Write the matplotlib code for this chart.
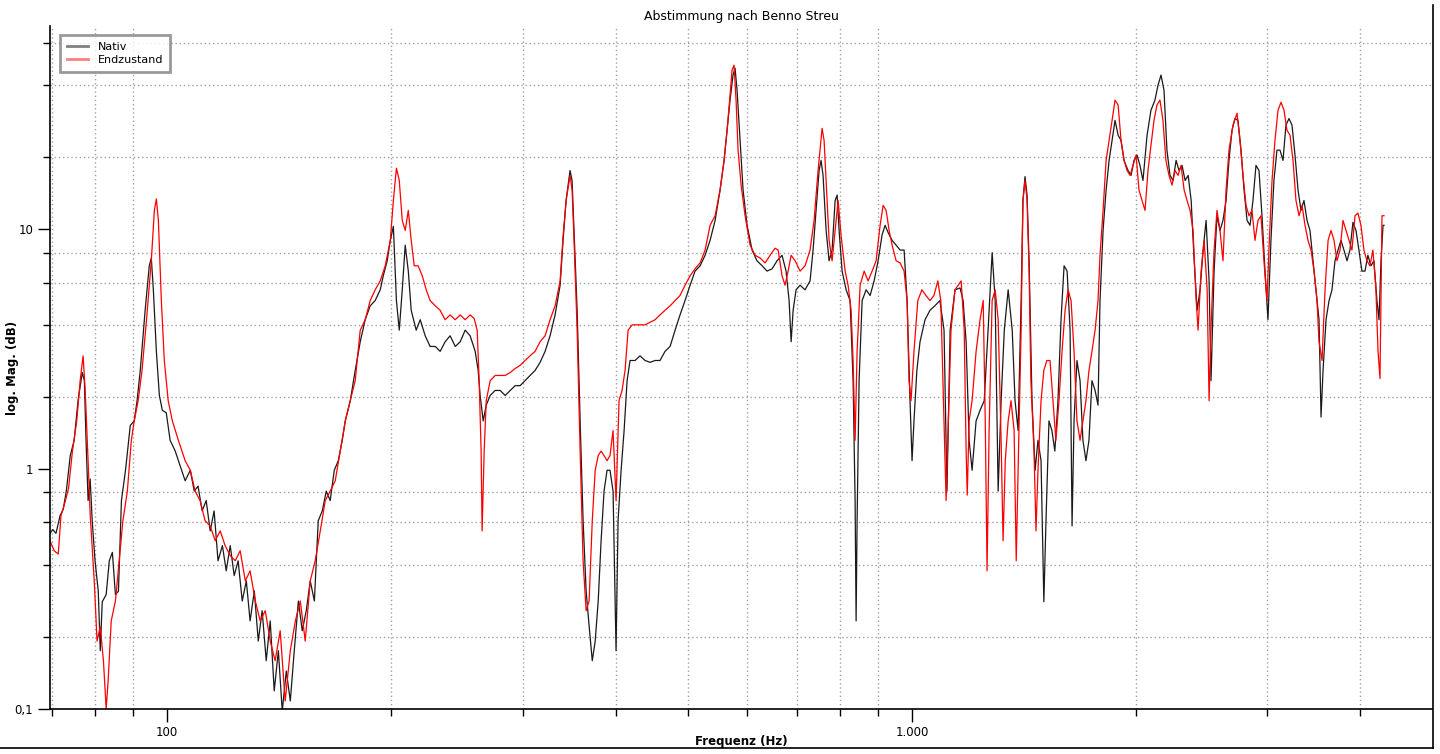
import numpy as np
import matplotlib.pyplot as plt
from matplotlib.ticker import LogLocator, NullFormatter
from matplotlib.lines import Line2D

# Nativ (schwarz)
freq_nativ = [69.6, 70.2, 70.9, 71.8, 72.5, 73.2, 74.1, 75.0, 75.9, 76.9, 77.4, 77.8, 78.3, 78.8, 79.3,
              80.0, 80.8, 81.3, 81.8, 82.8, 83.6, 84.4, 85.2, 86.0, 86.8, 87.9, 89.2, 90.3, 91.1, 92.0,
              93.4, 94.6, 95.2, 95.8, 96.7, 97.6, 98.5, 99.7, 100.9, 102.5, 104.1, 105.7, 107.4, 108.7, 110.0,
              111.4, 112.8, 114.2, 115.6, 117.0, 118.6, 120.0, 121.5, 123.0, 124.5, 126.1, 127.7, 129.2, 130.9,
              132.5, 134.1, 135.8, 137.5, 139.2, 141.0, 142.7, 144.5, 146.3, 148.1, 150.0, 151.8, 153.7, 155.6,
              157.6, 159.5, 161.5, 163.5, 165.5, 167.6, 169.7, 171.8,
              173.4, 176.1, 178.8, 181.6, 184.4, 187.3, 190.2, 193.2, 195.0, 197.4, 199.3, 201.2, 203.1, 204.9,
              206.8, 208.7, 210.7, 212.6, 215.9, 218.6, 222.0, 225.4, 229.0, 232.5, 236.1, 239.8, 243.6, 247.4,
              251.2, 255.1, 259.1, 261.5, 263.1, 265.6, 268.1, 271.4, 275.6,
              279.9, 284.3, 288.7, 293.2, 297.7, 302.3, 307.0, 311.8, 316.7, 321.6, 326.6, 331.7, 336.9, 340.0,
              343.2, 347.4, 349.6, 351.7, 355.1, 358.4, 361.7, 365.1, 368.5, 372.1, 375.5, 379.0, 382.4, 385.9,
              389.5, 393.1, 396.8, 400.5, 403.0, 406.8, 410.6, 414.4, 418.2, 424.7,
              431.3, 438.1, 444.9, 451.8, 458.8, 466.0, 473.3, 480.7, 488.1, 495.7, 503.5, 511.3, 519.3, 527.4,
              535.6, 544.0, 552.4, 559.3, 564.5, 569.7, 575.0, 578.6, 582.2, 587.6, 593.1, 600.5, 609.9, 619.1,
              629.1, 638.7, 648.8, 658.8, 669.1, 677.4, 683.8, 688.1, 692.4, 698.7, 707.4, 718.4, 729.6, 736.4,
              743.3, 750.2, 754.8, 759.5, 766.7, 773.8, 781.0, 788.4, 793.3, 798.1, 805.6, 815.6, 825.7, 833.4,
              838.6, 841.2, 843.8, 849.0, 857.0, 867.7, 878.4, 889.4, 900.4, 911.6, 920.1, 928.7, 940.2, 951.9,
              963.7, 975.7, 984.8, 993.8, 1000, 1006, 1015,
              1025, 1041, 1057, 1073, 1090, 1104, 1114, 1125, 1142, 1160, 1171, 1182, 1193, 1204, 1219, 1234,
              1250, 1265, 1281, 1293, 1305, 1317, 1330, 1346, 1363, 1375, 1388, 1401, 1409, 1418, 1427, 1436,
              1449, 1463, 1476, 1490, 1503, 1513, 1527, 1541, 1555, 1570, 1585, 1600, 1615, 1630, 1640, 1650,
              1665, 1681, 1696, 1712, 1728, 1744, 1761, 1777, 1788, 1805, 1822, 1839, 1856, 1873, 1891, 1908,
              1926, 1950, 1968, 1986, 2005, 2023, 2042, 2068, 2093, 2119, 2139, 2159, 2179, 2199, 2220, 2241,
              2262, 2283, 2304, 2326, 2348, 2370, 2392, 2414, 2436, 2459, 2482, 2505, 2520, 2544, 2567, 2591,
              2615, 2640, 2664, 2689, 2714, 2739, 2765, 2791, 2817, 2843, 2869, 2896, 2923, 2950, 2978, 3005,
              3033, 3061, 3090, 3119, 3148, 3177, 3207, 3237, 3267, 3298, 3328, 3359, 3391, 3422, 3454, 3486,
              3519, 3541, 3563, 3596, 3630, 3663, 3697, 3732, 3766, 3801, 3837, 3872, 3908, 3945, 3981, 4018,
              4056, 4093, 4132, 4170, 4209, 4236, 4262, 4289, 4302]
mag_nativ = [0.54, 0.56, 0.54, 0.64, 0.68, 0.81, 1.14, 1.32, 1.93, 2.53, 2.34, 1.32, 0.74, 0.91, 0.61,
             0.415, 0.31, 0.175, 0.28, 0.30, 0.415, 0.45, 0.30, 0.31, 0.74, 0.99, 1.52, 1.59, 1.93, 2.58,
             4.6, 7.05, 7.6, 5.6, 3.1, 2.03, 1.76, 1.72, 1.32, 1.19, 1.03, 0.895, 0.99, 0.81, 0.85,
             0.67, 0.74, 0.553, 0.67, 0.415, 0.48, 0.377, 0.48, 0.36, 0.415, 0.282, 0.342, 0.233, 0.311,
             0.192, 0.257, 0.159, 0.233, 0.119, 0.175, 0.098, 0.144, 0.108, 0.175, 0.282, 0.212, 0.257, 0.342,
             0.282, 0.61, 0.67, 0.81, 0.74, 0.99, 1.085, 1.32,
             1.59, 1.93, 2.58, 3.4, 4.2, 4.8, 5.05, 5.6, 6.4, 7.4, 9.0, 10.3, 5.05, 3.8,
             5.6, 8.6, 6.7, 4.6, 3.8, 4.2, 3.6, 3.25, 3.25, 3.1, 3.4, 3.6, 3.25, 3.4,
             3.8, 3.6, 3.1, 2.58, 2.03, 1.59, 1.85, 2.03, 2.13,
             2.13, 2.03, 2.13, 2.23, 2.23, 2.34, 2.46, 2.58, 2.79, 3.1, 3.6, 4.4, 5.85, 9.0,
             13.2, 17.6, 16.0, 9.9, 4.6, 1.59, 0.61, 0.311, 0.222, 0.159, 0.192, 0.282, 0.503, 0.81,
             0.99, 0.99, 0.81, 0.175, 0.61, 0.99, 1.45, 2.34, 2.84, 2.84,
             2.97, 2.84, 2.79, 2.84, 2.84, 3.1, 3.25, 3.8, 4.4, 5.05, 5.85, 6.7, 7.05, 7.8,
             9.0, 10.9, 14.6, 19.4, 25.9, 34.6, 44.0, 47.0, 38.0, 23.5, 14.6, 10.4, 8.2, 7.4,
             7.05, 6.7, 6.85, 7.4, 7.8, 6.7, 5.05, 3.4, 4.6, 5.6, 5.85, 5.6, 6.1, 8.2,
             12.0, 17.6, 19.4, 16.8, 9.9, 7.4, 8.2, 13.2, 13.9, 9.9, 6.7, 5.6, 5.05, 2.34,
             0.74, 0.233, 0.61, 2.34, 5.05, 5.6, 5.3, 6.1, 7.4, 9.5, 10.4, 9.7, 9.0, 8.6,
             8.2, 8.2, 5.05, 1.93, 1.085, 1.59, 2.58,
             3.4, 4.2, 4.6, 4.8, 5.05, 3.8, 0.81, 3.8, 5.6, 5.7, 5.05, 3.4, 1.32, 0.99, 1.59, 1.76,
             1.93, 3.8, 8.0, 5.05, 0.81, 1.93, 3.8, 5.6, 3.8, 1.93, 1.45, 5.05, 13.2, 16.6, 13.9, 7.4,
             1.93, 0.99, 1.32, 1.085, 0.28, 0.61, 1.59, 1.45, 1.19, 1.93, 4.2, 7.05, 6.7, 3.8, 0.58, 1.59,
             2.84, 2.34, 1.32, 1.085, 1.32, 2.34, 2.13, 1.85, 5.05, 9.9, 14.6, 19.4, 23.5, 28.5, 24.7, 23.5,
             19.4, 17.6, 16.8, 19.4, 20.4, 18.5, 16.0, 24.7, 31.4, 34.6, 39.9, 44.0, 38.1, 21.4, 16.8, 16.0,
             19.4, 17.6, 18.5, 16.0, 16.8, 13.2, 7.4, 4.6, 5.6, 8.2, 10.9, 6.1, 2.34, 6.7, 11.4, 9.9,
             10.9, 13.2, 19.4, 25.9, 29.0, 28.5, 21.4, 14.6, 10.9, 10.4, 13.2, 18.5, 17.6, 11.4, 6.7, 4.2,
             9.0, 16.0, 21.4, 21.4, 19.4, 27.2, 29.0, 27.2, 20.4, 14.6, 12.0, 13.2, 10.9, 9.9, 7.4, 5.6,
             4.2, 1.65, 2.58, 4.2, 5.05, 5.6, 7.4, 8.2, 9.0, 8.2, 7.4, 8.2, 10.7, 9.9, 8.2, 6.7,
             6.7, 7.8, 7.05, 7.4, 5.05, 4.2, 7.4, 10.4, 10.4]

# Endzustand (rot)
freq_end = [69.6, 70.5, 71.4, 72.0, 72.7, 73.7, 74.6, 75.6, 76.4, 77.1, 77.6, 78.3, 78.8, 79.8, 80.5,
            81.3, 82.1, 82.8, 83.3, 84.1, 85.2, 86.2, 87.2, 88.4, 89.5, 90.3, 91.4, 92.5, 93.8, 95.2,
            96.1, 96.7, 97.3, 98.2, 99.1, 100.3, 101.6, 103.5, 105.7, 107.4,
            109.0, 110.7, 112.4, 114.2, 116.0, 117.8, 119.6, 121.5, 123.4, 125.3, 127.3, 129.2, 131.3, 133.3,
            135.4, 137.5, 139.6, 141.8, 144.0, 146.3, 148.6, 150.9, 153.2, 155.6, 158.0, 160.5, 163.0, 165.5,
            168.1, 170.7,
            173.4, 176.1, 178.8, 181.6, 184.4, 187.3, 190.2, 193.2, 196.2, 199.3, 201.2, 203.1, 204.9, 206.8,
            208.7, 210.7, 212.6, 214.6, 217.2, 220.0, 222.7, 225.4, 229.0, 232.5, 236.1, 239.8, 243.6, 247.4,
            251.2, 255.1, 258.3, 260.7, 262.3, 263.9, 264.7, 266.4, 268.1, 271.4, 275.6,
            279.9, 284.3, 288.7, 293.2, 297.7, 302.3, 307.0, 311.8, 316.7, 321.6, 326.6, 331.7, 336.9, 340.0,
            343.2, 347.4, 349.6, 351.7, 355.1, 358.4, 361.7, 365.1, 368.5, 372.1, 375.5, 379.0, 382.4, 385.9,
            389.5, 393.1, 396.8, 400.5, 404.2, 408.0, 411.8, 415.7, 420.9, 426.0,
            431.3, 438.1, 444.9, 451.8, 458.8, 466.0, 473.3, 480.7, 488.1, 495.7, 503.5, 511.3, 519.3, 527.4,
            535.6, 544.0, 552.4, 559.3, 564.5, 569.7, 573.2, 576.8, 580.4, 584.0, 589.5, 596.8, 606.1, 615.6,
            625.2, 635.0, 644.8, 654.8, 661.0, 669.1, 675.3, 681.7, 688.1, 696.6, 707.4, 718.4, 729.6, 738.7,
            747.9, 757.2, 761.9, 766.7, 773.8, 781.0, 788.4, 795.7, 803.1, 813.1, 820.6, 828.3, 833.4, 838.6,
            843.8, 851.7, 862.4, 872.9, 883.9, 894.9, 906.0, 914.5, 923.0, 931.6, 940.2, 951.9, 963.7, 975.7,
            984.8, 990.7, 996.9, 1006, 1018, 1031, 1044, 1057, 1070, 1083, 1093, 1104, 1111, 1118, 1128,
            1142, 1153, 1164, 1175, 1182, 1186, 1193, 1204, 1219, 1234, 1246, 1254, 1261, 1269, 1281, 1293,
            1305, 1317, 1325, 1334, 1346, 1358, 1371, 1380, 1388, 1401, 1409, 1418, 1427, 1436, 1444, 1458,
            1467, 1476, 1490, 1503, 1517, 1532, 1546, 1560, 1575, 1590, 1605, 1620, 1635, 1650, 1665, 1681,
            1696, 1712, 1728, 1744, 1761, 1777, 1788, 1805, 1822, 1839, 1856, 1873, 1891, 1908, 1926, 1944,
            1962, 1980, 1999, 2017, 2036, 2055, 2074, 2093, 2113, 2132, 2152, 2172, 2192, 2213, 2234, 2255,
            2276, 2297, 2319, 2340, 2362, 2384, 2407, 2421, 2444, 2467, 2490, 2505, 2520, 2544, 2567, 2591,
            2615, 2640, 2664, 2697, 2731, 2756, 2782, 2808, 2834, 2860, 2887, 2914, 2941, 2968, 2996, 3014,
            3043, 3071, 3100, 3129, 3158, 3187, 3217, 3247, 3277, 3308, 3339, 3370, 3401, 3433, 3465, 3497,
            3519, 3552, 3585, 3619, 3652, 3686, 3720, 3755, 3790, 3825, 3861, 3896, 3933, 3969, 4006, 4043,
            4081, 4119, 4157, 4196, 4223, 4249, 4275, 4302]
mag_end = [0.503, 0.457, 0.443, 0.64, 0.705, 0.83, 1.19, 1.59, 2.34, 2.97, 2.13, 1.085, 0.65, 0.342, 0.192,
           0.22, 0.159, 0.10, 0.131, 0.233, 0.282, 0.415, 0.61, 0.81, 1.32, 1.59, 1.93, 2.58, 4.2, 7.4,
           12.0, 13.4, 10.9, 5.05, 2.84, 1.93, 1.59, 1.32, 1.085, 0.99,
           0.81, 0.74, 0.61, 0.58, 0.503, 0.553, 0.48, 0.436, 0.415, 0.457, 0.342, 0.377, 0.282, 0.233,
           0.257, 0.192, 0.159, 0.212, 0.108, 0.175, 0.233, 0.282, 0.192, 0.342, 0.415, 0.553, 0.74, 0.81,
           0.895, 1.19,
           1.59, 1.93, 2.34, 3.8, 4.2, 5.05, 5.6, 6.1, 7.05, 9.0, 13.2, 18.0, 16.0, 10.9,
           9.9, 12.0, 9.0, 7.05, 7.05, 6.4, 5.6, 5.05, 4.8, 4.6, 4.2, 4.4, 4.2, 4.4,
           4.2, 4.4, 4.25, 3.8, 2.34, 1.19, 0.553, 1.19, 1.93, 2.34, 2.46,
           2.46, 2.46, 2.53, 2.63, 2.71, 2.84, 2.97, 3.1, 3.4, 3.6, 4.2, 4.8, 6.1, 9.4,
           13.2, 16.8, 14.6, 9.0, 3.8, 1.19, 0.415, 0.257, 0.282, 0.61, 0.99, 1.14, 1.19, 1.14,
           1.085, 1.14, 1.45, 0.74, 1.93, 2.13, 2.58, 3.8, 4.0, 4.0,
           4.0, 4.0, 4.1, 4.2, 4.4, 4.6, 4.8, 5.05, 5.3, 5.85, 6.4, 6.85, 7.25, 8.2,
           10.4, 11.4, 14.6, 19.4, 25.9, 36.3, 46.1, 48.4, 34.6, 21.4, 15.3, 11.4, 8.6, 7.8,
           7.6, 7.25, 7.8, 8.35, 8.2, 6.4, 5.85, 6.7, 7.8, 7.4, 6.7, 7.05, 8.2, 10.9,
           17.6, 26.4, 23.5, 16.0, 9.0, 7.4, 9.9, 13.2, 9.4, 6.7, 5.85, 4.6, 2.84, 1.32,
           3.1, 5.85, 6.7, 6.1, 6.7, 7.4, 10.4, 12.6, 12.0, 9.9, 8.6, 7.4, 7.25, 6.7,
           5.05, 2.34, 1.93, 3.1, 5.05, 5.6, 5.3, 5.05, 5.3, 6.1, 5.05, 1.59, 0.74, 1.45, 3.8,
           5.6, 5.85, 6.1, 3.8, 1.19, 0.78, 1.59, 1.93, 3.1, 4.2, 5.05, 1.59, 0.377, 1.45, 5.05, 5.6,
           4.2, 1.32, 0.503, 1.085, 1.59, 1.93, 1.45, 0.415, 0.99, 3.8, 13.2, 16.0, 13.2, 6.7, 2.34, 1.19,
           0.553, 0.99, 1.93, 2.58, 2.84, 2.84, 1.93, 1.32, 1.93, 3.1, 4.6, 5.6, 5.05, 3.1, 1.59, 1.32,
           1.59, 1.93, 2.58, 3.1, 3.8, 5.05, 7.8, 12.0, 19.4, 23.5, 28.5, 34.6, 33.0, 23.5, 19.4, 17.6,
           16.8, 18.5, 20.4, 14.6, 13.2, 12.0, 17.6, 22.4, 28.5, 33.0, 34.6, 28.5, 19.4, 16.8, 15.3, 17.6,
           16.8, 18.5, 14.6, 13.2, 12.0, 9.9, 5.05, 3.8, 6.7, 9.0, 5.6, 1.93, 3.9, 8.2, 12.0, 9.9,
           7.4, 14.6, 21.4, 27.2, 30.5, 23.5, 16.8, 12.6, 11.4, 12.0, 9.0, 10.9, 11.4, 7.4, 5.05, 8.2,
           16.0, 23.5, 31.4, 33.9, 31.4, 25.9, 24.7, 19.4, 13.2, 11.4, 12.6, 10.4, 9.0, 8.2, 6.7, 5.05,
           3.4, 2.84, 5.6, 9.0, 9.9, 9.0, 7.4, 8.2, 10.9, 9.9, 9.0, 8.2, 11.4, 11.7, 10.4, 8.2,
           7.4, 7.05, 8.2, 5.6, 3.1, 2.39, 11.4, 11.4]

x_ticks = [100, 1000]
x_labels = ["100", "1.000"]
y_ticks = [0.1, 1, 10]
y_labels = ["0,1", "1", "10"]

fig = plt.figure(figsize=(14.4, 7.54), dpi=100)
ax = fig.add_axes([50/1440, 1 - 709/754, 1382/1440, 683/754])

ax.plot(freq_nativ, mag_nativ, color='#1a1a1a', linewidth=0.9)
ax.plot(freq_end, mag_end, color='#ff0000', linewidth=0.9)

ax.set_xscale('log')
ax.set_yscale('log')
ax.set_xlim(69.6, 4990)
ax.set_ylim(0.1, 70.5)

ax.xaxis.set_minor_locator(LogLocator(base=10, subs=(2, 3, 4, 5, 6, 7, 8, 9), numticks=20))
ax.yaxis.set_minor_locator(LogLocator(base=10, subs=(2, 4, 6, 8), numticks=20))
ax.set_xticks(x_ticks)
ax.set_xticklabels(x_labels)
ax.set_yticks(y_ticks)
ax.set_yticklabels(y_labels)
ax.xaxis.set_minor_formatter(NullFormatter())
ax.yaxis.set_minor_formatter(NullFormatter())

ax.tick_params(which='major', length=9, width=1, labelsize=8.5, direction='out', pad=3)
ax.tick_params(which='minor', length=5, width=1, direction='out')
ax.grid(which='minor', color='#a0a0a0', linestyle=(0, (1, 2)), linewidth=1)
ax.grid(which='major', visible=False)

for s in ['top', 'right']:
    ax.spines[s].set_visible(False)
for s in ['left', 'bottom']:
    ax.spines[s].set_linewidth(1.2)

ax.set_title("Abstimmung nach Benno Streu", fontsize=9, pad=4)
ax.set_ylabel("log. Mag. (dB)", fontsize=8.5, fontweight='bold', va='center')
ax.yaxis.set_label_coords(-0.0268, 0.5)
ax.set_xlabel("Frequenz (Hz)", fontsize=8.5, fontweight='bold', va='center')
ax.xaxis.set_label_coords(0.5, -0.0483)

handles = [Line2D([], [], color='#808080', linewidth=2),
           Line2D([], [], color='#ff8080', linewidth=2)]
leg = ax.legend(handles, ["Nativ", "Endzustand"], loc='upper left', bbox_to_anchor=(0.007, 0.987),
                fontsize=8, frameon=True, fancybox=False, handlelength=1.9, handletextpad=0.9,
                borderpad=0.62, labelspacing=0.28, borderaxespad=0)
leg.get_frame().set_edgecolor('#808080')
leg.get_frame().set_linewidth(2)

# Rahmen unten und rechts
fig.add_artist(Line2D([0, 1433/1440], [1 - 748/754, 1 - 748/754], color='black', linewidth=1.2))
fig.add_artist(Line2D([1433/1440, 1433/1440], [1 - 748/754, 1 - 5/754], color='black', linewidth=1.2))

plt.savefig("out.png", dpi=100)
